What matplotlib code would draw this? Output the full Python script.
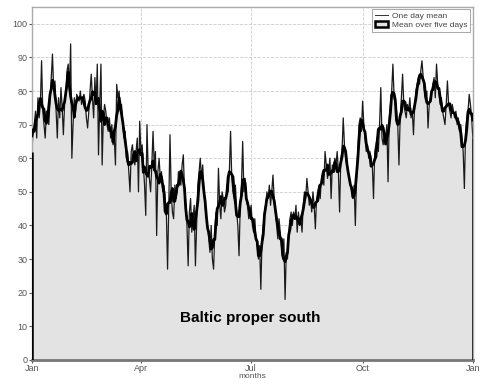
import numpy as np
import pandas as pd
import matplotlib
matplotlib.use("Agg")
import matplotlib.pyplot as plt
from matplotlib.lines import Line2D
from matplotlib.patches import Patch

plt.rcParams['font.family'] = ['Liberation Sans', 'DejaVu Sans']

# daily values, one per day of the year
daily = [
    62, 68, 70, 74, 66, 78, 72, 76, 89, 74,
    70, 66, 74, 72, 70, 78, 84, 91, 80, 83,
    74, 66, 78, 72, 81, 75, 67, 76, 80, 86,
    88, 80, 94, 60, 70, 78, 74, 79, 78, 77,
    80, 76, 78, 79, 77, 72, 69, 74, 80, 85,
    78, 72, 84, 76, 88, 61, 76, 88, 58, 72,
    76, 74, 70, 68, 72, 66, 70, 64, 66, 58,
    82, 78, 80, 74, 76, 70, 66, 68, 60, 62,
    56, 50, 62, 64, 60, 58, 62, 66, 50, 71,
    62, 64, 58, 52, 43, 70, 56, 54, 50, 58,
    68, 58, 62, 37, 56, 60, 54, 56, 50, 52,
    48, 44, 27, 46, 67, 50, 44, 42, 52, 48,
    50, 56, 54, 52, 58, 61, 50, 46, 40, 28,
    44, 48, 38, 42, 46, 28, 40, 52, 56, 60,
    54, 58, 50, 46, 42, 40, 36, 32, 40, 30,
    27, 38, 44, 40, 57, 46, 42, 50, 48, 44,
    46, 52, 50, 56, 68, 54, 50, 48, 52, 44,
    40, 31, 46, 52, 65, 50, 54, 48, 46, 42,
    44, 46, 40, 38, 42, 36, 34, 30, 34, 21,
    36, 40, 44, 46, 50, 48, 52, 46, 50, 55,
    48, 44, 40, 36, 42, 38, 34, 30, 36, 18,
    32, 30, 38, 42, 44, 40, 44, 42, 46, 38,
    44, 40, 42, 38, 46, 50, 48, 54, 50, 46,
    48, 44, 50, 46, 39, 48, 50, 52, 48, 54,
    56, 52, 62, 58, 54, 56, 60, 48, 58, 56,
    60, 58, 62, 56, 44, 60, 62, 72, 64, 60,
    58, 56, 54, 52, 50, 48, 52, 40, 54, 62,
    70, 72, 68, 77, 70, 66, 62, 64, 60, 62,
    60, 58, 48, 62, 64, 66, 62, 70, 81, 66,
    64, 68, 66, 70, 53, 72, 76, 80, 88, 78,
    76, 74, 70, 58, 72, 78, 85, 76, 74, 72,
    76, 74, 78, 72, 74, 67, 76, 80, 82, 84,
    82, 86, 89, 84, 80, 78, 80, 69, 76, 78,
    80, 82, 84, 78, 88, 82, 80, 76, 78, 74,
    72, 70, 76, 83, 76, 74, 72, 76, 74, 72,
    74, 70, 72, 68, 70, 66, 62, 51, 68, 72,
    74, 79, 76, 72, 66,
]
month_ticks = [0, 90, 181, 273, 364]
month_labels = ['Jan', 'Apr', 'Jul', 'Oct', 'Jan']

days = np.arange(len(daily))
five_day = pd.Series(daily).rolling(5, center=True, min_periods=1).mean()

fig = plt.figure(figsize=(4.83, 3.87), dpi=100)
ax = fig.add_axes([0.066, 0.070, 0.913, 0.912])

ax.fill_between(days, 0, daily, color='#e3e3e3', linewidth=0, zorder=1)
ax.vlines([days[0], days[-1]], 0, [daily[0], daily[-1]], color='k', linewidth=1.8, zorder=3)
ax.plot(days, daily, color='#1a1a1a', linewidth=0.9, zorder=2)
ax.plot(days, five_day, color='k', linewidth=2.0, zorder=3)

ax.set_xlim(0, 364)
ax.set_ylim(0, 105)
ax.set_yticks(range(0, 101, 10))
ax.set_xticks(month_ticks)
ax.set_xticklabels(month_labels)
ax.tick_params(labelsize=6.5, colors='#555555', length=2, pad=1)
ax.set_xlabel('months', fontsize=6, color='#555555', labelpad=0)
ax.grid(True, linestyle='--', color='#cccccc', linewidth=0.6, zorder=0)
ax.set_axisbelow(True)
for s in ax.spines.values():
    s.set_color('#aaaaaa')
    s.set_linewidth(1)
ax.spines['bottom'].set_color('#777777')
ax.spines['bottom'].set_linewidth(2)

ax.text(180, 12.5, 'Baltic proper south', fontsize=11, fontweight='bold',
        ha='center', va='center', zorder=4)

handles = [Line2D([], [], color='#333333', linewidth=0.7),
           Patch(facecolor='#e3e3e3', edgecolor='k', linewidth=1.8)]
leg = ax.legend(handles, ['One day mean', 'Mean over five days'], loc='upper right',
                fontsize=6, fancybox=False, framealpha=1, edgecolor='#999999',
                borderpad=0.3, labelspacing=0.2, handlelength=1.6, handletextpad=0.5,
                borderaxespad=0.3)
leg.get_frame().set_linewidth(0.6)
for t in leg.get_texts():
    t.set_color('#444444')

fig.savefig('out.png', dpi=100)
